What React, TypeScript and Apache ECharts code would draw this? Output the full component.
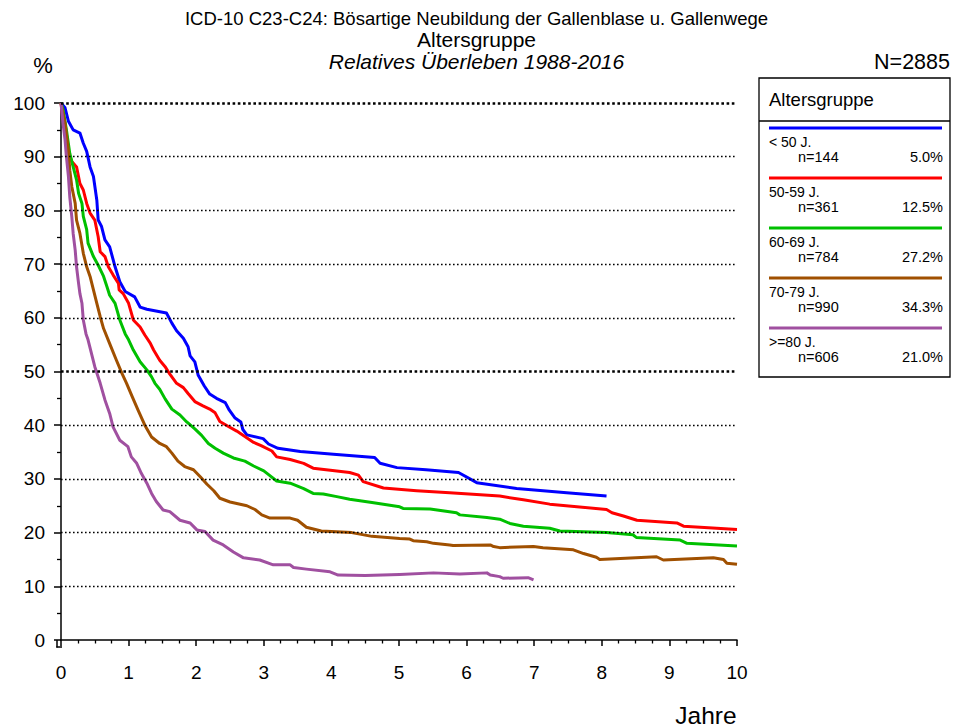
import React, { useEffect, useRef } from "react";
import * as echarts from "echarts";

const titleLines = [
  "ICD-10 C23-C24: Bösartige Neubildung der Gallenblase u. Gallenwege",
  "Altersgruppe",
  "Relatives Überleben 1988-2016",
];
const totalN = "N=2885";
const legendTitle = "Altersgruppe";
const groupNames = ["< 50 J.", "50-59 J.", "60-69 J.", "70-79 J.", ">=80 J."];
const groupNs = ["n=144", "n=361", "n=784", "n=990", "n=606"];
const groupPcts = ["5.0%", "12.5%", "27.2%", "34.3%", "21.0%"];
const colors = ["#0000ff", "#ff0000", "#00c000", "#a05000", "#a050a0"];
const xTicks = [0, 1, 2, 3, 4, 5, 6, 7, 8, 9, 10];
const gridValues = [10, 20, 30, 40, 50, 60, 70, 80, 90, 100];
const boldGrid = [50, 100];

const under50 = [
  [0, 100], [0.06, 99.1], [0.11, 96.6], [0.18, 95.0], [0.28, 94.4], [0.33, 92.5], [0.38, 91.0], [0.43, 88.1],
  [0.48, 86.3], [0.53, 81.9], [0.55, 78.2], [0.6, 77.0], [0.65, 74.5], [0.72, 73.2], [0.8, 69.5], [0.87, 66.7],
  [0.95, 64.9], [1.09, 63.9], [1.17, 62.0], [1.27, 61.6], [1.56, 60.9], [1.64, 59.0], [1.71, 57.6], [1.81, 56.2],
  [1.88, 54.6], [1.91, 52.9], [1.98, 51.8], [2.03, 49.3], [2.12, 47.3], [2.2, 45.8], [2.3, 45.0], [2.43, 44.2],
  [2.49, 42.8], [2.57, 41.4], [2.66, 40.6], [2.69, 39.2], [2.75, 38.2], [2.99, 37.5], [3.07, 36.5], [3.21, 35.7],
  [3.54, 35.1], [4.03, 34.6], [4.64, 34.0], [4.72, 32.9], [4.97, 32.1], [5.4, 31.7], [5.88, 31.2], [6.15, 29.3],
  [6.74, 28.2], [7.48, 27.4], [8.07, 26.8],
];
const age50to59 = [
  [0, 100], [0.03, 97], [0.08, 93], [0.12, 90.5], [0.16, 89.1], [0.23, 88.1], [0.28, 85.0], [0.33, 83.8],
  [0.38, 81.3], [0.43, 79.5], [0.5, 78.2], [0.55, 75.1], [0.58, 72.3], [0.65, 71.4], [0.7, 69.5], [0.77, 68.0],
  [0.85, 66.4], [0.86, 65.2], [0.92, 64.5], [1.0, 62.7], [1.07, 59.6], [1.17, 58.3], [1.24, 56.8], [1.32, 55.3],
  [1.37, 54.0], [1.46, 52.1], [1.54, 50.9], [1.61, 49.5], [1.71, 47.8], [1.81, 47.0], [1.88, 45.9], [1.98, 44.4],
  [2.1, 43.6], [2.2, 43.0], [2.28, 42.3], [2.35, 40.7], [2.47, 39.8], [2.6, 38.9], [2.72, 37.9], [2.85, 36.8],
  [2.96, 36.2], [3.12, 35.2], [3.19, 34.1], [3.39, 33.6], [3.59, 32.9], [3.73, 32.0], [4.27, 31.2], [4.4, 30.7],
  [4.47, 29.5], [4.77, 28.3], [5.26, 27.8], [5.75, 27.4], [6.49, 26.8], [6.84, 26.1], [7.23, 25.3], [8.07, 24.3],
  [8.15, 23.7], [8.32, 23.1], [8.52, 22.3], [9.11, 21.8], [9.21, 21.2], [9.7, 20.8], [10.0, 20.6],
];
const age60to69 = [
  [0, 100], [0.03, 98.8], [0.08, 95.0], [0.13, 90.6], [0.18, 88.1], [0.23, 85.7], [0.26, 83.2], [0.31, 81.3],
  [0.33, 78.9], [0.38, 76.4], [0.4, 73.9], [0.48, 71.4], [0.55, 69.8], [0.63, 67.7], [0.68, 65.8], [0.72, 64.2],
  [0.8, 62.7], [0.87, 59.6], [0.95, 57.0], [1.0, 55.9], [1.07, 54.0], [1.17, 51.8], [1.27, 50.3], [1.34, 49.0],
  [1.39, 47.8], [1.46, 46.7], [1.54, 44.9], [1.64, 43.0], [1.76, 41.9], [1.86, 40.6], [1.98, 39.3], [2.08, 38.1],
  [2.18, 36.6], [2.28, 35.7], [2.4, 34.8], [2.55, 33.9], [2.72, 33.3], [2.85, 32.4], [3.0, 31.5], [3.09, 30.6],
  [3.19, 29.6], [3.39, 29.2], [3.59, 28.2], [3.73, 27.3], [3.88, 27.2], [4.08, 26.7], [4.27, 26.2], [4.6, 25.6],
  [5.01, 24.8], [5.06, 24.5], [5.46, 24.4], [5.85, 23.7], [5.9, 23.3], [6.3, 22.8], [6.49, 22.5], [6.64, 21.7],
  [6.84, 21.2], [7.23, 20.8], [7.38, 20.3], [8.07, 20.0], [8.46, 19.6], [8.51, 19.1], [9.16, 18.6], [9.26, 18.0],
  [10.0, 17.5],
];
const age70to79 = [
  [0, 100], [0.06, 96.2], [0.11, 91.2], [0.13, 87.5], [0.16, 84.4], [0.21, 81.3], [0.23, 78.2], [0.28, 75.7],
  [0.33, 72.0], [0.38, 69.5], [0.43, 67.7], [0.48, 65.2], [0.53, 62.7], [0.58, 60.2], [0.63, 58.0], [0.72, 55.2],
  [0.82, 52.1], [0.9, 49.7], [0.97, 47.8], [1.05, 45.4], [1.14, 42.8], [1.24, 40.0], [1.34, 37.8], [1.46, 36.6],
  [1.56, 36.0], [1.64, 34.8], [1.73, 33.3], [1.83, 32.3], [1.96, 31.7], [2.06, 30.4], [2.16, 29.0], [2.26, 27.8],
  [2.35, 26.4], [2.5, 25.7], [2.75, 25.0], [2.87, 24.3], [2.97, 23.3], [3.09, 22.7], [3.39, 22.7], [3.5, 22.3],
  [3.63, 21.0], [3.85, 20.3], [4.3, 20.0], [4.6, 19.3], [5.01, 18.9], [5.16, 18.8], [5.21, 18.5], [5.41, 18.3],
  [5.51, 18.0], [5.75, 17.7], [5.8, 17.6], [6.35, 17.7], [6.4, 17.4], [6.49, 17.2], [6.99, 17.4], [7.13, 17.2],
  [7.58, 16.8], [7.73, 16.1], [7.92, 15.4], [7.97, 15.0], [8.81, 15.5], [8.91, 14.9], [9.65, 15.3], [9.8, 15.0],
  [9.85, 14.3], [10, 14.1],
];
const age80plus = [
  [0, 100], [0.03, 96.2], [0.06, 93.1], [0.08, 90.0], [0.11, 86.3], [0.13, 82.5], [0.16, 78.8], [0.18, 75.7],
  [0.21, 72.6], [0.23, 69.5], [0.26, 66.4], [0.28, 64.5], [0.31, 62.7], [0.33, 59.6], [0.37, 57.0], [0.4, 55.9],
  [0.5, 50.9], [0.58, 47.8], [0.65, 44.7], [0.72, 42.2], [0.77, 39.7], [0.87, 37.2], [0.99, 36.0], [1.04, 34.1],
  [1.12, 32.9], [1.19, 31.0], [1.27, 29.2], [1.34, 27.3], [1.41, 25.8], [1.51, 24.2], [1.61, 23.9], [1.76, 22.3],
  [1.91, 21.8], [2.01, 20.5], [2.13, 20.2], [2.25, 18.6], [2.4, 17.7], [2.55, 16.4], [2.7, 15.3], [2.94, 14.9],
  [3.14, 14.0], [3.39, 14.0], [3.44, 13.5], [3.63, 13.2], [3.98, 12.7], [4.1, 12.1], [4.5, 12.0], [5.01, 12.2],
  [5.51, 12.5], [5.9, 12.3], [6.3, 12.5], [6.35, 12.1], [6.49, 11.8], [6.54, 11.5], [6.91, 11.6], [6.99, 11.2],
];
const seriesData = [under50, age50to59, age60to69, age70to79, age80plus];

const FONT = "'Liberation Sans', Arial, sans-serif";

export default function App() {
  const ref = useRef<HTMLDivElement>(null);
  useEffect(() => {
    if (!ref.current) return;
    const chart = echarts.init(ref.current, null, { renderer: "svg" });

    const legendX = 759, legendY = 78, legendW = 191, legendH = 299;
    const legendEls: any[] = [
      { type: "rect", shape: { x: legendX, y: legendY, width: legendW, height: legendH }, style: { fill: "#fff", stroke: "#000", lineWidth: 1.3 } },
      { type: "line", shape: { x1: legendX, y1: 121, x2: legendX + legendW, y2: 121 }, style: { stroke: "#000", lineWidth: 1.3 } },
      { type: "text", x: 769, y: 99, style: { text: legendTitle, font: `18.5px ${FONT}`, fill: "#000", verticalAlign: "middle" } },
    ];
    groupNames.forEach((name, i) => {
      const y0 = 128 + i * 50;
      legendEls.push(
        { type: "line", shape: { x1: 769, y1: y0, x2: 942, y2: y0 }, style: { stroke: colors[i], lineWidth: 3 } },
        { type: "text", x: 769, y: y0 + 14, style: { text: name, font: `14px ${FONT}`, fill: "#000", verticalAlign: "middle" } },
        { type: "text", x: 798, y: y0 + 29, style: { text: groupNs[i], font: `14.5px ${FONT}`, fill: "#000", verticalAlign: "middle" } },
        { type: "text", x: 943, y: y0 + 29, style: { text: groupPcts[i], font: `14.5px ${FONT}`, fill: "#000", verticalAlign: "middle", align: "right" } },
      );
    });

    const option: any = {
      animation: false,
      backgroundColor: "#fff",
      title: [
        { text: titleLines[0], left: "center", top: 9, padding: 0, textStyle: { fontFamily: FONT, fontSize: 18.5, fontWeight: "normal", color: "#000" } },
        { text: titleLines[1], left: "center", top: 29, padding: 0, textStyle: { fontFamily: FONT, fontSize: 21, fontWeight: "normal", color: "#000" } },
        { text: titleLines[2], left: "center", top: 51, padding: 0, textStyle: { fontFamily: FONT, fontSize: 21, fontWeight: "normal", fontStyle: "italic", color: "#000" } },
      ],
      grid: { left: 61, right: 216, top: 103, bottom: 88, containLabel: false },
      xAxis: {
        type: "value", min: 0, max: 10, interval: 1, offset: 7,
        axisLine: { show: true, lineStyle: { color: "#000", width: 1.5 } },
        axisTick: { show: true, length: 6, lineStyle: { color: "#000", width: 1.5 } },
        minorTick: { show: true, splitNumber: 4, length: 3.5, lineStyle: { color: "#000", width: 1.3 } },
        splitLine: { show: false },
        axisLabel: { fontFamily: FONT, fontSize: 19, color: "#000", margin: 16, formatter: (v: number) => (xTicks.includes(v) ? String(v) : "") },
      },
      yAxis: {
        type: "value", min: 0, max: 100, interval: 10, offset: 4,
        axisLine: { show: true, lineStyle: { color: "#000", width: 1.5 } },
        axisTick: { show: true, length: 7, lineStyle: { color: "#000", width: 1.5 } },
        minorTick: { show: true, splitNumber: 2, length: 4, lineStyle: { color: "#000", width: 1.3 } },
        splitLine: { show: false },
        axisLabel: { fontFamily: FONT, fontSize: 19, color: "#000", margin: 12 },
      },
      series: [
        {
          type: "line", data: [], silent: true, z: 1,
          markLine: {
            silent: true, symbol: ["none", "none"], label: { show: false },
            data: gridValues.map((v) => ({
              yAxis: v,
              lineStyle: boldGrid.includes(v)
                ? { color: "#000", width: 2.6, type: [2.6, 2.6] }
                : { color: "#000", width: 1.4, type: [1.6, 2.4] },
            })),
          },
        },
        ...seriesData.map((d, i) => ({
          type: "line", name: groupNames[i], data: d, showSymbol: false, symbol: "none", z: 3,
          lineStyle: { color: colors[i], width: 3, join: "round" }, itemStyle: { color: colors[i] },
        })),
      ],
      graphic: [
        { type: "line", shape: { x1: 57, y1: 640, x2: 57, y2: 647.5 }, style: { stroke: "#000", lineWidth: 1.5 } },
        { type: "line", shape: { x1: 56.3, y1: 647, x2: 62, y2: 647 }, style: { stroke: "#000", lineWidth: 1.5 } },
        { type: "text", x: 43, y: 65, style: { text: "%", font: `22px ${FONT}`, fill: "#000", align: "center", verticalAlign: "middle" } },
        { type: "text", x: 950, y: 62, style: { text: totalN, font: `21.5px ${FONT}`, fill: "#000", align: "right", verticalAlign: "middle" } },
        { type: "text", x: 706, y: 715, style: { text: "Jahre", font: `24.5px ${FONT}`, fill: "#000", align: "center", verticalAlign: "middle" } },
        ...legendEls,
      ],
    };
    chart.setOption(option);
    return () => chart.dispose();
  }, []);
  return <div ref={ref} style={{ width: 953, height: 728, position: "absolute", left: 0, top: 0 }} />;
}
